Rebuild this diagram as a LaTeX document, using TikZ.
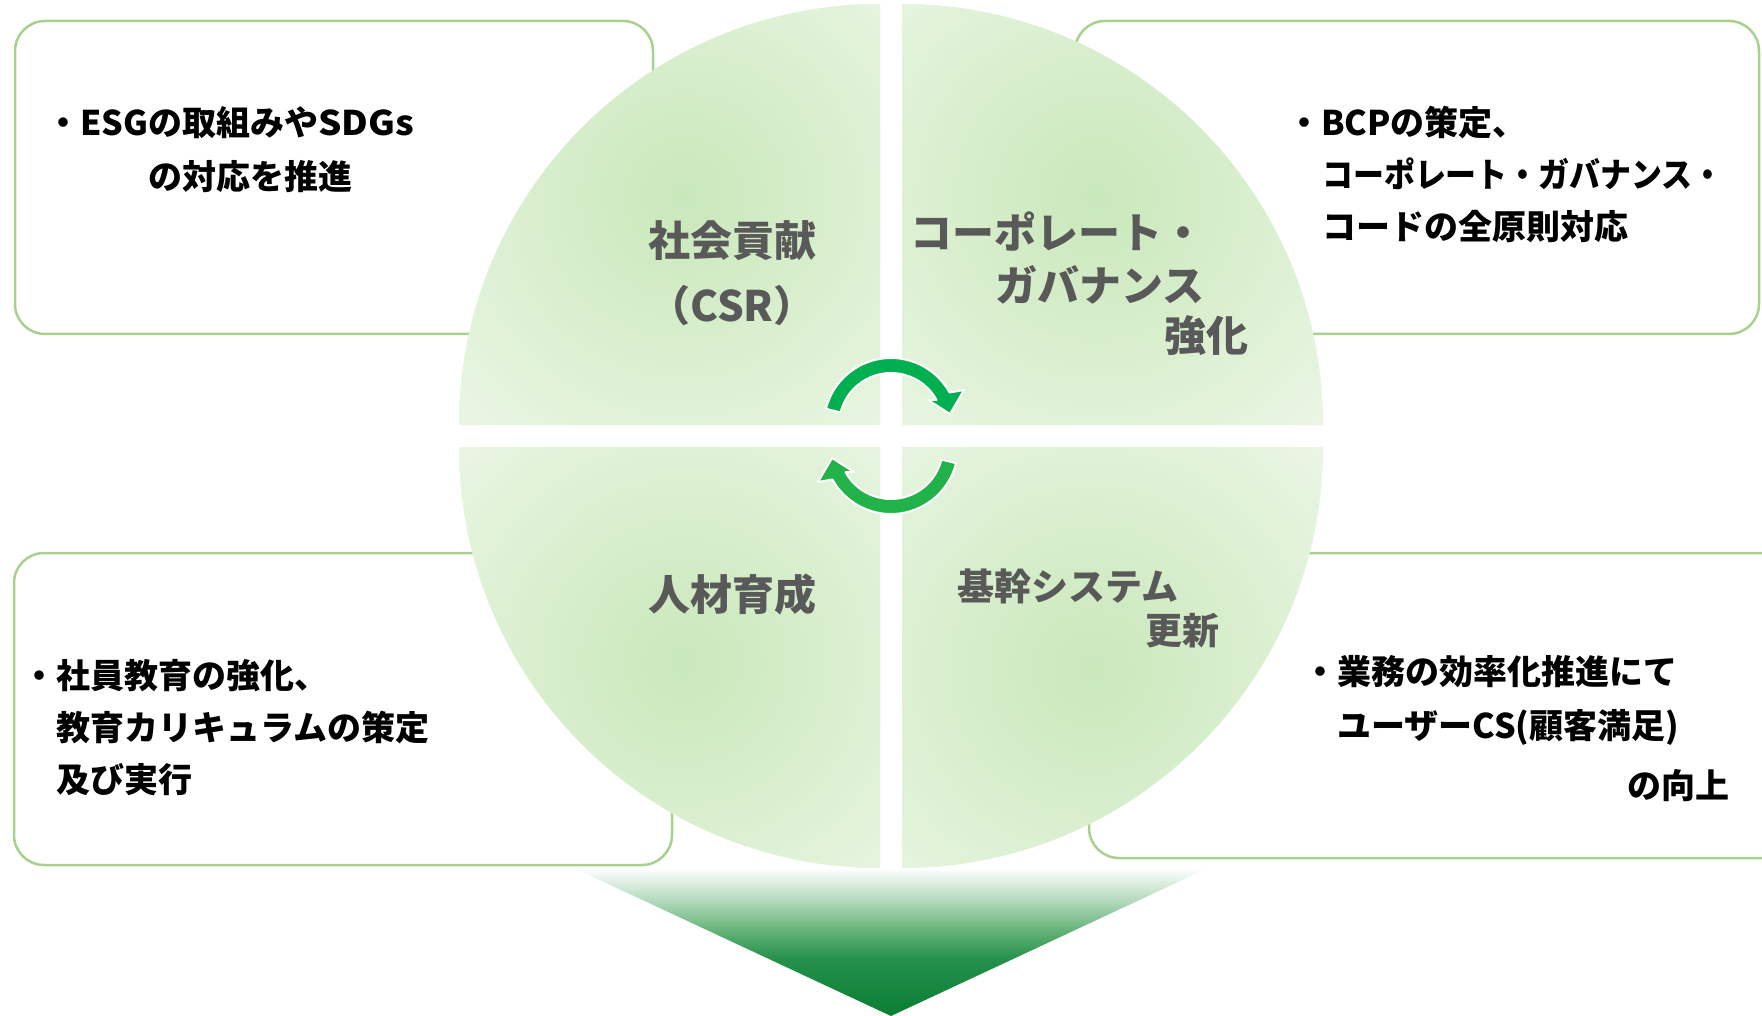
\documentclass[tikz,border=0pt]{standalone}
\usepackage{fontspec}
\setmainfont{Noto Sans CJK JP}
\usetikzlibrary{calc}
\definecolor{boxline}{HTML}{A9D18E}
\definecolor{qin}{HTML}{C9E8BA}
\definecolor{qout}{HTML}{EAF6E4}
\definecolor{labelgray}{HTML}{595959}
\definecolor{arrA}{HTML}{00B050}
\definecolor{arrB}{HTML}{22B24A}
\definecolor{fgA}{HTML}{0A7E33}
\definecolor{fgB}{HTML}{24904A}
\definecolor{fgC}{HTML}{5AAD70}
\definecolor{fgD}{HTML}{A8D4B2}
\pgfdeclareverticalshading{funnelshade}{100bp}{color(0bp)=(fgA); color(25bp)=(fgA); color(44bp)=(fgB); color(52.5bp)=(fgC); color(62.5bp)=(fgD); color(75bp)=(white); color(100bp)=(white)}
\tikzset{
  infobox/.style={fill=white, draw=boxline, line width=2.5pt, rounded corners=30pt},
  boxtext/.style={font=\fontsize{34}{40}\selectfont\bfseries, text=black, inner sep=0pt},
  circlabel/.style={font=\fontsize{42}{48}\selectfont\bfseries, text=labelgray, inner sep=0pt},
  circlabelsmall/.style={font=\fontsize{37}{44}\selectfont\bfseries, text=labelgray, inner sep=0pt},
  cyclearrow/.style={draw=white, line width=2pt, line join=round}
}
\begin{document}
\begin{tikzpicture}[x=1pt, y=-1pt]
\useasboundingbox (0,0) rectangle (1762,1016);
\clip (0,0) rectangle (1762,1016);

% info boxes
\draw[infobox] (15,21) rectangle (653,334);
\draw[infobox] (1075,21) rectangle (1759,334);
\draw[infobox] (14,553) rectangle (672,865);
\draw[infobox] (1089,553) rectangle (1800,858);

% funnel
\shade[shading=funnelshade] (574,868) -- (1208,868) -- (891,1016) -- cycle;

% quadrants
\begin{scope}
  \clip (880,425) -- (459,425) arc[start angle=180, end angle=270, radius=421] -- cycle;
  \fill[qout] (440,0) rectangle (890,430);
  \shade[inner color=qin, outer color=qout] (683,195) circle[radius=320];
\end{scope}
\begin{scope}
  \clip (902,425) -- (902,4) arc[start angle=270, end angle=360, radius=421] -- cycle;
  \fill[qout] (895,0) rectangle (1340,430);
  \shade[inner color=qin, outer color=qout] (1097,197) circle[radius=320];
\end{scope}
\begin{scope}
  \clip (880,447) -- (459,447) arc[start angle=180, end angle=90, radius=421] -- cycle;
  \fill[qout] (440,440) rectangle (890,880);
  \shade[inner color=qin, outer color=qout] (683,662) circle[radius=320];
\end{scope}
\begin{scope}
  \clip (902,447) -- (1323,447) arc[start angle=0, end angle=90, radius=421] -- cycle;
  \fill[qout] (895,440) rectangle (1340,880);
  \shade[inner color=qin, outer color=qout] (1092,669) circle[radius=320];
\end{scope}

% quadrant labels
\node[circlabel, anchor=base] (csr1) at (732,257) {社会貢献};
\node[circlabel, anchor=base] (csr2) at (732,322) {（CSR）};
\node[circlabel, anchor=base east] (cg1) at (1205,249) {コーポレート・};
\node[circlabel, anchor=base east] (cg2) at (1205,302) {ガバナンス};
\node[circlabel, anchor=base east] (cg3) at (1249,352) {強化};
\node[circlabel, anchor=base] (hr1) at (732,610) {人材育成};
\node[circlabelsmall, anchor=base west] (sys1) at (957,600) {基幹システム};
\node[circlabelsmall, anchor=base east] (sys2) at (1220,644) {更新};

% cycle arrows
\fill[arrA, cyclearrow] ([shift={(194:67)}]891,425) arc[start angle=194, end angle=331, radius=67]
  -- (964,390) -- (950,414) -- (928,400) -- ([shift={(331:52)}]891,425)
  arc[start angle=331, end angle=194, radius=52] -- cycle;
\fill[arrB, cyclearrow] ([shift={(14:67)}]891,447) arc[start angle=14, end angle=151, radius=67]
  -- (818,482) -- (832,458) -- (854,472) -- ([shift={(151:52)}]891,447)
  arc[start angle=151, end angle=14, radius=52] -- cycle;

% box texts
\node[boxtext, anchor=base west] (tl1) at (46,136) {・ESGの取組みや\scalebox{1.08}[1]{SDGs}};
\node[boxtext, anchor=base west] (tl2) at (148,190) {の対応を推進};

\node[boxtext, anchor=base west] (tr1) at (1287,136) {・BCPの策定、};
\node[boxtext, anchor=base west] (tr2) at (1322,188) {\scalebox{0.91}[1]{コーポレート・ガバナンス・}};
\node[boxtext, anchor=base west] (tr3) at (1322,240) {コードの全原則対応};

\node[boxtext, anchor=base west] (bl1) at (22,688) {・社員教育の強化、};
\node[boxtext, anchor=base west] (bl2) at (56,740) {教育カリキュラムの策定};
\node[boxtext, anchor=base west] (bl3) at (56,792) {及び実行};

\node[boxtext, anchor=base west] (br1) at (1303,684) {・業務の効率化推進にて};
\node[boxtext, anchor=base west] (br2) at (1337,738) {ユーザーCS(顧客満足)};
\node[boxtext, anchor=base east] (br3) at (1730,798) {の向上};
\end{tikzpicture}
\end{document}
